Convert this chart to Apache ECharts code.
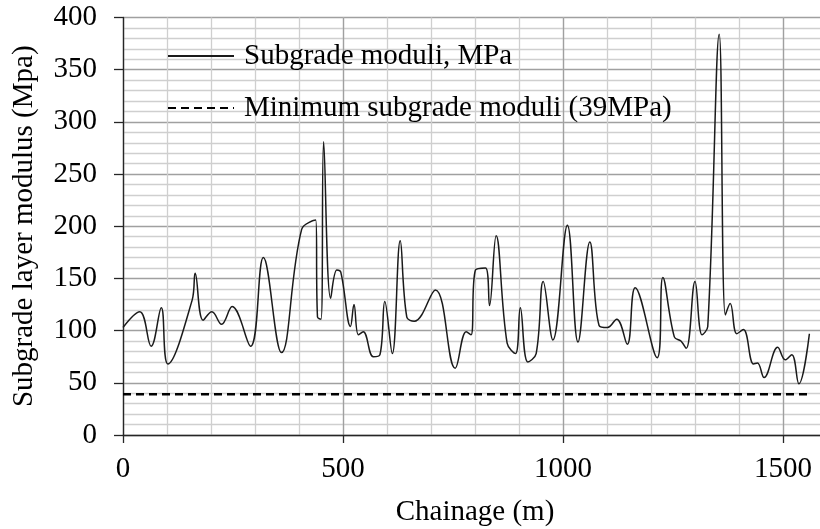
<!DOCTYPE html>
<html>
<head>
<meta charset="utf-8">
<style>
  html, body { margin: 0; padding: 0; background: #ffffff; }
  #chart { width: 820px; height: 529px; }
</style>
<script src="https://cdn.jsdelivr.net/npm/echarts@6/dist/echarts.min.js"></script>
</head>
<body>
<div id="chart"></div>
<script>
// Chainage along the section (m)
const chainage = [0, 38, 64, 87, 102, 157, 164, 182, 202, 224, 248, 290, 319, 360, 406, 438, 442, 450, 456, 472, 486, 495, 517, 525, 535, 546, 569, 584, 595, 612, 630, 645, 662, 710, 755, 780, 791, 801, 824, 833, 848, 873, 892, 903, 920, 939, 955, 977, 1010, 1034, 1061, 1082, 1101, 1122, 1146, 1164, 1214, 1227, 1253, 1268, 1280, 1300, 1316, 1329, 1355, 1369, 1380, 1395, 1410, 1433, 1442, 1457, 1488, 1505, 1520, 1536, 1560];
// Back-calculated subgrade moduli (MPa)
const moduli = [103, 118, 85, 122, 68, 129, 155, 110, 118, 106, 123, 85, 170, 79, 197, 206, 113, 111, 281, 131, 158, 156, 104, 125, 96, 99, 75, 77, 128, 78, 186, 113, 109, 139, 64, 99, 96, 158, 160, 124, 191, 88, 78, 122, 70, 78, 147, 91, 201, 89, 185, 105, 103, 111, 87, 141, 74, 151, 94, 90, 83, 147, 96, 104, 384, 115, 126, 97, 101, 68, 69, 55, 84, 72, 77, 49, 97];
// Minimum required subgrade modulus
const minModulus = 39;
const minRange = [0, 1560];

const xLabelValues = [0, 500, 1000, 1500];

const FONT = 'Liberation Serif';
const MAJOR = '#a0a0a0';
const MINOR = '#cfcfcf';
const AXIS = '#262626';

const chart = echarts.init(document.getElementById('chart'), null, { renderer: 'canvas' });

chart.setOption({
  animation: false,
  backgroundColor: '#ffffff',
  textStyle: { fontFamily: FONT },
  grid: { left: 123, right: -7, top: 17.5, bottom: 94, containLabel: false, outerBoundsMode: 'none' },
  legend: {
    orient: 'vertical',
    left: 167,
    top: 40,
    padding: 0,
    itemWidth: 66,
    itemHeight: 14,
    itemGap: 20,
    itemStyle: { opacity: 0 },
    textStyle: { fontFamily: FONT, fontSize: 29, color: '#000', lineHeight: 32, padding: [0, 0, 0, 5] },
    data: ['Subgrade moduli, MPa', 'Minimum subgrade moduli (39MPa)']
  },
  xAxis: [
    {
      // fine 100 m grid
      type: 'value',
      position: 'bottom',
      min: 0,
      max: 1600,
      interval: 100,
      axisLine: { show: false },
      axisTick: { show: false },
      axisLabel: { show: false },
      splitLine: { show: true, lineStyle: { color: MINOR, width: 1.3 } }
    },
    {
      type: 'value',
      position: 'bottom',
      min: 0,
      max: 1600,
      interval: 500,
      name: 'Chainage (m)',
      nameLocation: 'middle',
      nameGap: 63,
      nameTextStyle: { fontFamily: FONT, fontSize: 29, color: '#000' },
      axisLine: { show: true, onZero: false, lineStyle: { color: AXIS, width: 1.3 } },
      axisTick: { show: true, length: 8, customValues: xLabelValues, lineStyle: { color: AXIS, width: 1.3 } },
      axisLabel: { customValues: xLabelValues, margin: 20, fontFamily: FONT, fontSize: 29, color: '#000', formatter: v => String(v) },
      splitLine: { show: true, lineStyle: { color: MAJOR, width: 1.3 } }
    }
  ],
  yAxis: {
    type: 'value',
    min: 0,
    max: 400,
    interval: 50,
    name: 'Subgrade layer modulus (Mpa)',
    nameLocation: 'middle',
    nameGap: 84,
    nameTextStyle: { fontFamily: FONT, fontSize: 29, color: '#000' },
    axisLine: { show: true, lineStyle: { color: AXIS, width: 1.3 } },
    axisTick: { show: true, length: 9, lineStyle: { color: AXIS, width: 1.3 } },
    axisLabel: { margin: 26, fontFamily: FONT, fontSize: 29, color: '#000', formatter: v => String(v) },
    splitLine: { show: true, lineStyle: { color: MAJOR, width: 1.3 } },
    minorTick: { show: false, splitNumber: 5 },
    minorSplitLine: { show: true, lineStyle: { color: MINOR, width: 1.3 } }
  },
  series: [
    {
      name: 'Subgrade moduli, MPa',
      type: 'line',
      xAxisIndex: 1,
      smooth: 0.4,
      showSymbol: false,
      symbol: 'none',
      lineStyle: { color: '#1a1a1a', width: 1.5 },
      itemStyle: { color: '#1a1a1a' },
      data: chainage.map((c, i) => [c, moduli[i]])
    },
    {
      name: 'Minimum subgrade moduli (39MPa)',
      type: 'line',
      xAxisIndex: 1,
      showSymbol: false,
      symbol: 'none',
      lineStyle: { color: '#000', width: 2.4, type: [8, 5] },
      itemStyle: { color: '#000' },
      data: minRange.map(c => [c, minModulus])
    }
  ]
});
</script>
</body>
</html>
